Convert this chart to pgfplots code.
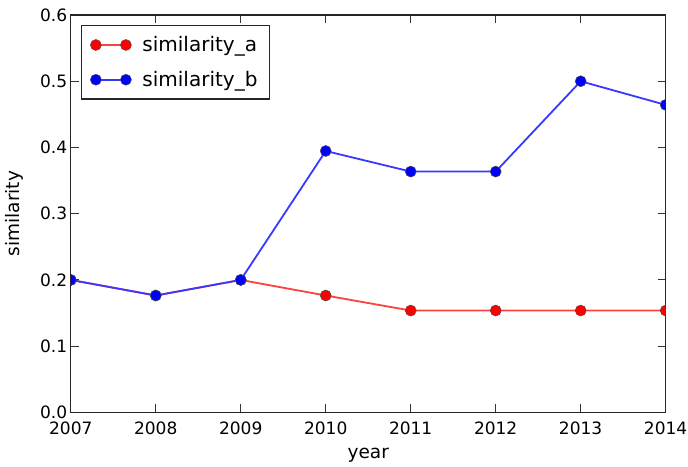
\documentclass[border=0pt]{standalone}
\usepackage{fontspec}
\setmainfont{DejaVu Sans}
\usepackage{pgfplots}
\pgfplotsset{compat=1.18}
\newcommand{\tickf}{\fontsize{17}{20}\selectfont}
\newcommand{\labf}{\fontsize{18.5}{22}\selectfont}
\newcommand{\legf}{\fontsize{20}{24}\selectfont}
\begin{document}
\begin{tikzpicture}[font=\tickf]
\begin{axis}[
  name=ax,
  scale only axis,
  width=594.3pt, height=397pt,
  xmin=2007, xmax=2014, ymin=0, ymax=0.6,
  xtick={2007,...,2014},
  ytick={0,0.1,...,0.6},
  tick label style={font=\tickf},
  xticklabel style={/pgf/number format/1000 sep={}, anchor=base, yshift=-22pt},
  yticklabel style={/pgf/number format/fixed, /pgf/number format/fixed zerofill, /pgf/number format/precision=1},
  /pgf/number format/assume math mode=true,
  tick align=inside,
  major tick length=8pt,
  tick style={line width=0.9pt, black!80},
  axis line style={line width=1.2pt, black!85},
  xlabel={year}, ylabel={similarity},
  xlabel style={font=\labf, at={(axis description cs:0.5,-0.1159)}, anchor=base},
  ylabel style={font=\labf, at={(axis description cs:-0.0956,0.5)}, anchor=center, rotate=0},
  clip marker paths=true,
  legend style={at={(0.0168,0.9748)}, anchor=north west, draw=black!85, line width=1.2pt, inner xsep=9pt, inner ysep=9pt, row sep=14pt, nodes={font=\legf, inner ysep=2pt, inner xsep=3pt},
    /tikz/every odd column/.append style={column sep=8pt}},
  legend cell align=left,
  legend image code/.code={\draw[#1] plot coordinates {(0pt,0pt) (30pt,0pt)};},
]
\addplot[color=red!75!white, line width=1.8pt, mark=*, mark size=5.5pt, mark options={fill=red, draw=black!70, line width=0.5pt}]
coordinates {(2007,0.2) (2008,0.1765) (2009,0.2) (2010,0.1765) (2011,0.1538) (2012,0.1538) (2013,0.1538) (2014,0.1538)};
\addlegendentry{similarity\_a}
\addplot[color=blue!78!white, line width=1.8pt, mark=*, mark size=5.5pt, mark options={fill=blue, draw=black!70, line width=0.5pt}]
coordinates {(2007,0.2) (2008,0.1765) (2009,0.2) (2010,0.3947) (2011,0.3636) (2012,0.3636) (2013,0.5) (2014,0.4643)};
\addlegendentry{similarity\_b}
\end{axis}
\pgfresetboundingbox
\path[use as bounding box] ([shift={(-70.7pt,-54pt)}]ax.south west) rectangle ([shift={(22.3pt,15pt)}]ax.north east);
\end{tikzpicture}
\end{document}
